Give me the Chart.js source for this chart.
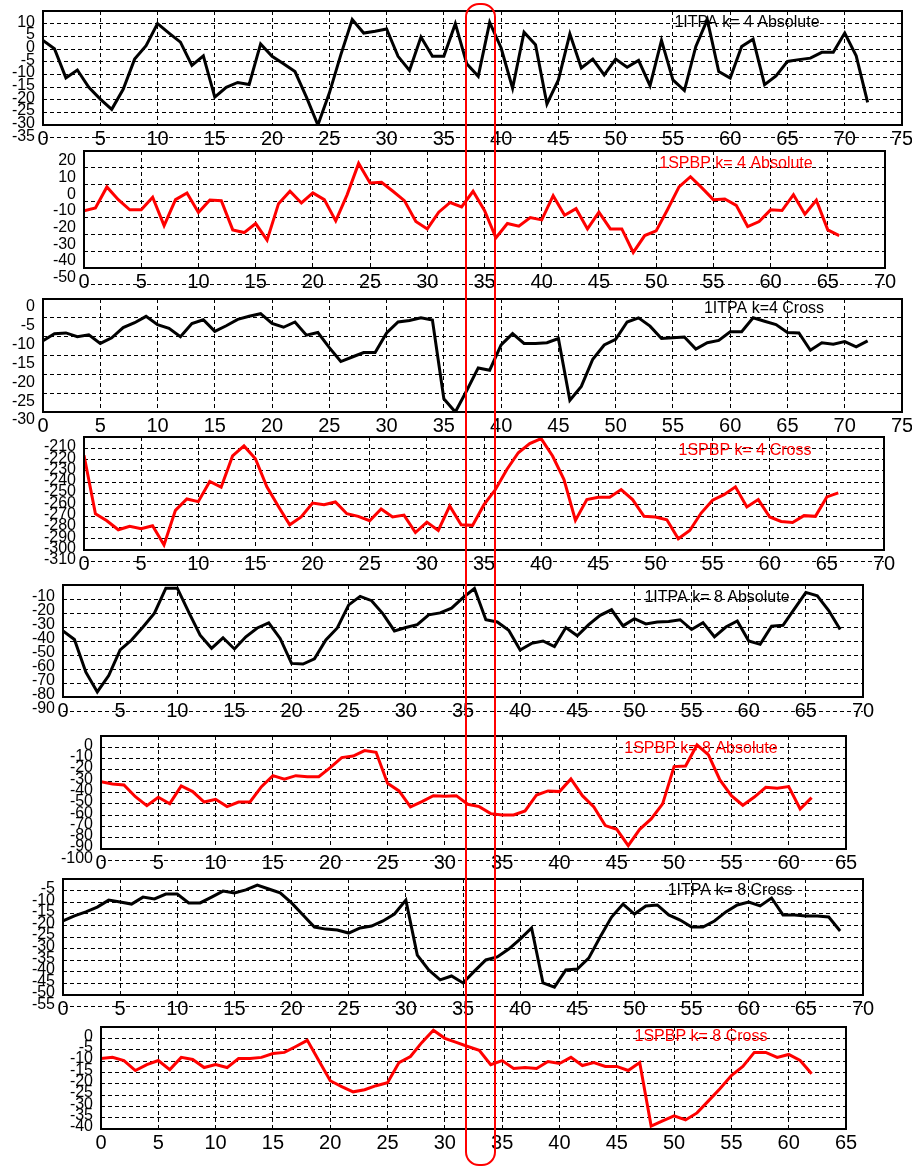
<!DOCTYPE html>
<html>
<head>
<meta charset="utf-8">
<script src="https://cdn.jsdelivr.net/npm/chart.js@4.4.1/dist/chart.umd.min.js"></script>
<style>
  body { margin: 0; background: #fff; }
  #wrap { position: relative; width: 912px; height: 1169px; overflow: hidden; background: #fff; }
  #wrap canvas { position: absolute; left: 0; }
  #marker { position: absolute; left: 465px; top: 3px; width: 31px; height: 1163px; box-sizing: border-box;
            border: 2.5px solid #ff0000; border-radius: 14px; z-index: 10; pointer-events: none; }
</style>
</head>
<body>
<div id="wrap"><div id="marker"></div></div>
<script>
// series values, one per x step (x = 0, 1, 2, ...)
const itpaK4Abs = [3.4, 0.1, -11.4, -8.3, -15.1, -19.8, -23.8, -15.9, -4.0, 1.3,
  10, 6.3, 2.7, -6.5, -2.7, -19.0, -15.1, -13.2, -14.0, 2.0,
  -2.9, -5.8, -8.9, -19.0, -30, -17.4, -2.3, 11.6, 6.3, 7.0,
  7.9, -2.9, -8.5, 4.7, -2.9, -2.9, 10.0, -5.8, -10.8, 10.5,
  0.4, -15.5, 6.6, 1.7, -21.7, -12.2, 6.0, -7.5, -4.0, -10.2,
  -4.0, -7.2, -4.5, -14.5, 3.4, -12.2, -16.4, 1.0, 11.6, -8.9,
  -11.5, 1.0, 3.9, -14.1, -10.6, -4.9, -4.2, -3.6, -1.3, -1.3,
  6.3, -2.7, -21.1];
const spbpK4Abs = [-5.8, -4.1, 8.5, 0.9, -5.2, -5.2, 2.3, -14.6, 0.9, 4.9,
  -6.8, 0.7, 0.3, -17.2, -18.8, -13.4, -23.3, -1.5, 5.9, -1.1,
  4.9, 0.9, -11.8, 3.9, 22.6, 10.9, 11.3, 5.9, 0.3, -12.2,
  -16.6, -6.6, -0.8, -3.5, 5.9, -5.6, -21.9, -13.4, -15.0, -9.8,
  -11.2, 3.3, -8.4, -4.5, -16.6, -6.6, -16.6, -16.6, -30.7, -20.6,
  -17.8, -5.0, 8.5, 14.6, 7.9, 0.9, 1.3, -2.5, -15.2, -12.2,
  -5.2, -5.6, 3.9, -7.8, 0.5, -17.2, -20.6];
const itpaK4Cross = [-11.1, -9.2, -9.0, -10.0, -9.5, -11.8, -10.3, -7.6, -6.3, -4.6,
  -6.8, -7.8, -10.0, -6.5, -5.5, -8.6, -7.1, -5.4, -4.6, -3.9,
  -6.5, -7.5, -6.1, -9.6, -8.9, -12.9, -16.6, -15.4, -14.2, -14.2,
  -9.0, -6.1, -5.7, -5.0, -5.6, -26.5, -30, -24.3, -18.3, -18.9,
  -12.2, -9.2, -11.8, -11.8, -11.6, -10.5, -26.9, -23.2, -16.0, -12.2,
  -10.7, -6.1, -5.0, -7.2, -10.5, -10.3, -10.1, -13.3, -11.6, -11.0,
  -8.7, -8.7, -5.0, -5.9, -6.8, -8.9, -9.0, -13.6, -11.6, -12.0,
  -11.3, -12.7, -11.1];
const spbpK4Cross = [-216.2, -267.9, -274.1, -282.1, -279.1, -281.2, -278.5, -295.5, -264.9, -254.8,
  -257.2, -239.4, -244.4, -216.8, -207.9, -219.2, -244.1, -261.3, -277.7, -270.8,
  -258.4, -259.9, -257.5, -267.9, -270.2, -274.1, -263.7, -270.8, -269.1, -284.5,
  -275.3, -282.7, -261.0, -277.7, -278.2, -259.9, -246.5, -228.7, -213.9, -205.8,
  -201.4, -216.8, -237.6, -273.8, -255.4, -253.3, -253.3, -246.5, -255.4, -270.2,
  -270.8, -273.2, -290.1, -282.7, -267.3, -256.0, -251.0, -244.1, -261.9, -255.4,
  -270.8, -274.7, -275.6, -269.6, -270.2, -253.0, -249.5];
const itpaK8Abs = [-32.8, -38.9, -62.3, -76.4, -64.7, -46.4, -39.3, -30.0, -20.1, -2.3,
  -2.3, -19.4, -35.8, -45.2, -37.7, -45.7, -37.0, -30.7, -27.1, -38.2,
  -56.0, -56.5, -52.7, -39.3, -30.7, -14.2, -8.1, -11.2, -20.6, -32.8,
  -30.4, -28.3, -21.3, -19.9, -16.5, -9.0, -2.5, -24.8, -26.4, -32.3,
  -46.4, -41.7, -40.0, -44.0, -30.4, -36.3, -28.3, -21.7, -17.7, -29.2,
  -24.1, -27.8, -26.4, -26.0, -24.8, -31.8, -26.9, -37.0, -30.0, -25.7,
  -40.0, -42.4, -29.5, -28.8, -17.0, -5.3, -7.7, -18.2, -31.8];
const spbpK8Abs = [-30.4, -32.4, -33.3, -43.7, -51.6, -44.2, -49.9, -34.2, -39.2, -48.4,
  -46.0, -52.5, -48.4, -48.4, -34.8, -25.1, -28.3, -25.1, -26.0, -26.0,
  -18.0, -9.1, -7.7, -2.9, -4.4, -31.9, -38.6, -52.8, -48.1, -42.8,
  -43.4, -42.8, -50.4, -52.5, -58.7, -59.9, -59.9, -56.3, -42.2, -38.6,
  -39.2, -28.0, -42.8, -52.8, -69.3, -72.6, -87.0, -72.6, -63.4, -50.1,
  -17.1, -16.5, 2.1, -6.8, -28.9, -42.8, -51.3, -44.0, -35.4, -36.3,
  -34.8, -54.6, -44.5];
const itpaK8Cross = [-18.1, -15.9, -14.2, -12.1, -9.1, -9.9, -10.8, -7.8, -8.6, -6.5,
  -6.5, -10.3, -10.3, -7.8, -5.2, -6.0, -4.7, -2.6, -4.3, -6.0,
  -10.3, -15.5, -20.7, -21.6, -22.0, -23.3, -21.1, -20.3, -18.1, -15.1,
  -9.1, -32.8, -39.2, -43.5, -41.8, -44.8, -39.7, -34.9, -33.6, -30.2,
  -25.9, -21.1, -44.8, -46.6, -39.2, -38.8, -34.1, -25.0, -16.4, -10.8,
  -15.1, -11.6, -11.2, -15.5, -17.7, -20.7, -20.7, -18.1, -14.2, -11.2,
  -9.9, -11.6, -8.2, -15.5, -15.5, -15.9, -15.9, -16.4, -22.4];
const spbpK8Cross = [-8.9, -8.4, -9.8, -14.2, -11.6, -9.8, -13.8, -8.4, -9.3, -12.9,
  -11.6, -12.9, -8.9, -8.9, -8.4, -6.7, -6.2, -3.6, -0.9, -9.8,
  -18.7, -21.3, -23.6, -22.7, -20.9, -19.6, -10.7, -8.0, -1.8, 3.6,
  0, -1.8, -3.6, -5.3, -11.6, -9.8, -13.3, -12.9, -13.3, -10.2,
  -11.1, -8.4, -12.0, -10.7, -12.4, -12.4, -14.2, -10.7, -38.7, -36.4,
  -34.2, -36.0, -32.9, -27.6, -22.2, -16.4, -12.4, -6.2, -6.2, -8.4,
  -7.1, -9.8, -15.6];

// y tick labels of each panel
const yTicksItpaK4Abs = [-35, -30, -25, -20, -15, -10, -5, 0, 5, 10];
const yTicksSpbpK4Abs = [-50, -40, -30, -20, -10, 0, 10, 20];
const yTicksItpaK4Cross = [-30, -25, -20, -15, -10, -5, 0];
const yTicksSpbpK4Cross = [-310, -300, -290, -280, -270, -260, -250, -240, -230, -220, -210];
const yTicksItpaK8Abs = [-90, -80, -70, -60, -50, -40, -30, -20, -10];
const yTicksSpbpK8Abs = [-100, -90, -80, -70, -60, -50, -40, -30, -20, -10, 0];
const yTicksItpaK8Cross = [-55, -50, -45, -40, -35, -30, -25, -20, -15, -10, -5];
const yTicksSpbpK8Cross = [-40, -35, -30, -25, -20, -15, -10, -5, 0];

// panel titles
const titles = ['1ITPA k= 4 Absolute', '1SPBP k= 4 Absolute', '1ITPA k=4 Cross', '1SPBP k= 4 Cross',
  '1ITPA k= 8 Absolute', '1SPBP k= 8 Absolute', '1ITPA k= 8 Cross', '1SPBP k= 8 Cross'];

const BLACK = '#000000', RED = '#ff0000';
const FONT = '"Liberation Sans", Arial, Helvetica, sans-serif';
Chart.defaults.font.family = FONT;

// layout: plot box [left, top, right, bottom] in page pixels, title centre, label shift
const panels = [
  { title: titles[0], color: BLACK, data: itpaK4Abs, yTicks: yTicksItpaK4Abs, yMin: -30, yMax: 15, xMax: 75, box: [43, 11, 902, 125], lab: -1.5, tpos: [747, 23] },
  { title: titles[1], color: RED, data: spbpK4Abs, yTicks: yTicksSpbpK4Abs, yMin: -40, yMax: 30, xMax: 70, box: [84, 151, 885, 268], lab: -7, tpos: [736, 164] },
  { title: titles[2], color: BLACK, data: itpaK4Cross, yTicks: yTicksItpaK4Cross, yMin: -30, yMax: 0, xMax: 75, box: [43, 299, 902, 412], lab: 8, tpos: [764, 309] },
  { title: titles[3], color: RED, data: spbpK4Cross, yTicks: yTicksSpbpK4Cross, yMin: -300, yMax: -200, xMax: 70, box: [84, 437, 884, 550], lab: -1.5, tpos: [745, 451] },
  { title: titles[4], color: BLACK, data: itpaK8Abs, yTicks: yTicksItpaK8Abs, yMin: -80, yMax: 0, xMax: 70, box: [63, 585, 863, 697], lab: -2.5, tpos: [717, 598] },
  { title: titles[5], color: RED, data: spbpK8Abs, yTicks: yTicksSpbpK8Abs, yMin: -90, yMax: 10, xMax: 65, box: [101, 736, 846, 849], lab: -2, tpos: [701, 749] },
  { title: titles[6], color: BLACK, data: itpaK8Cross, yTicks: yTicksItpaK8Cross, yMin: -50, yMax: 0, xMax: 70, box: [63, 879, 863, 995], lab: -2, tpos: [730, 891] },
  { title: titles[7], color: RED, data: spbpK8Cross, yTicks: yTicksSpbpK8Cross, yMin: -40, yMax: 5, xMax: 65, box: [101, 1027, 846, 1129], lab: -2, tpos: [701, 1037] }
];

// frame round the plot area and the title inside it
const framePlugin = {
  id: 'frame',
  afterDatasetsDraw(chart, args, opts) {
    const ctx = chart.ctx, a = chart.chartArea;
    ctx.save();
    ctx.font = '16px ' + FONT;
    ctx.fillStyle = opts.color;
    ctx.textAlign = 'center';
    ctx.textBaseline = 'middle';
    ctx.fillText(opts.text, opts.x, opts.y);
    ctx.strokeStyle = '#000';
    ctx.lineWidth = 2;
    ctx.strokeRect(a.left, a.top, a.right - a.left, a.bottom - a.top);
    ctx.restore();
  }
};

const wrap = document.getElementById('wrap');
const BOTTOM = 34;

panels.forEach(p => {
  const [L, T, R, B] = p.box;
  const padTop = Math.min(10, T);
  const top = T - padTop;
  const cv = document.createElement('canvas');
  cv.width = 912;
  cv.height = padTop + (B - T) + BOTTOM;
  cv.style.top = top + 'px';
  wrap.insertBefore(cv, wrap.firstChild);

  const gridOpts = { color: '#000', lineWidth: 1, drawTicks: false };
  const borderOpts = { display: false, dash: [4, 3] };

  new Chart(cv, {
    type: 'line',
    data: {
      datasets: [{
        data: p.data.map((v, i) => ({ x: i, y: v })),
        borderColor: p.color,
        borderWidth: 3,
        pointRadius: 0,
        tension: 0,
        fill: false
      }]
    },
    options: {
      responsive: false,
      animation: false,
      events: [],
      layout: { padding: { top: padTop, right: 912 - R, left: 0, bottom: 0 } },
      plugins: {
        legend: { display: false },
        tooltip: { enabled: false },
        frame: { text: p.title, color: p.color, x: p.tpos[0], y: p.tpos[1] - top }
      },
      scales: {
        x: {
          type: 'linear', min: 0, max: p.xMax,
          afterFit(s) { s.height = BOTTOM; s.paddingLeft = 0; s.paddingRight = 0; },
          ticks: { stepSize: 5, autoSkip: false, maxRotation: 0, padding: 2, color: '#000',
                   font: { size: 20 }, callback: v => String(v) },
          grid: gridOpts, border: borderOpts
        },
        y: {
          type: 'linear', min: p.yMin, max: p.yMax,
          afterFit(s) { s.width = L; s.paddingTop = 0; s.paddingBottom = 0; },
          afterBuildTicks(s) { s.ticks = p.yTicks.map(v => ({ value: v })); },
          ticks: { autoSkip: false, padding: 8, labelOffset: p.lab, color: '#000',
                   font: { size: 16 }, callback: v => String(v) },
          grid: gridOpts, border: borderOpts
        }
      }
    },
    plugins: [framePlugin]
  });
});
</script>
</body>
</html>
